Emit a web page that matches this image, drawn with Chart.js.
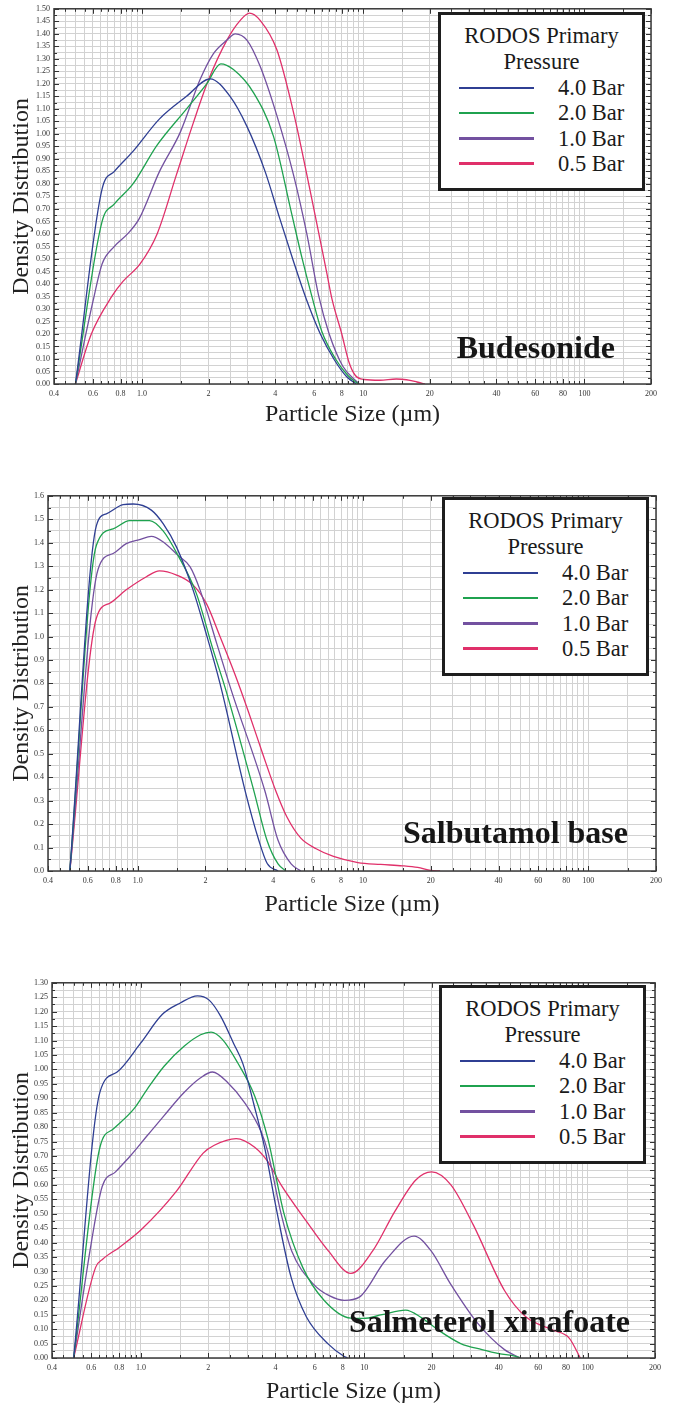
<!DOCTYPE html>
<html>
<head>
<meta charset="utf-8">
<script src="https://cdn.jsdelivr.net/npm/chart.js@4.4.1/dist/chart.umd.min.js"></script>
<style>
  body { margin:0; background:#fff; width:685px; height:1405px; position:relative; overflow:hidden; font-family:"Liberation Serif", serif; }
  canvas { position:absolute; left:0; }
  .legend { position:absolute; box-sizing:border-box; width:207px; height:179px; border:3px solid #1e1e1e; background:#fff; padding-top:8px; color:#1a1a1a;
            font-family:"Liberation Serif", "Times New Roman", "DejaVu Serif", serif; }
  .legend .lt { font-size:22.5px; line-height:26px; text-align:center; }
  .legend .row { position:relative; height:25.3px; font-size:22.5px; line-height:25.3px; }
  .legend .ln { position:absolute; left:18px; top:11.5px; width:75px; height:2.5px; }
  .legend .lb { position:absolute; left:117px; top:0; }
</style>
</head>
<body>
<canvas id="c1" width="685" height="440" style="top:0px"></canvas>
<canvas id="c2" width="685" height="440" style="top:487px"></canvas>
<canvas id="c3" width="685" height="431" style="top:974px"></canvas>
<script>
// series / legend
const seriesNames = ['4.0 Bar', '2.0 Bar', '1.0 Bar', '0.5 Bar'];
const seriesColors = ['#2f3f93', '#1fa24f', '#7351a0', '#e0306a'];
const legendTitle = ['RODOS Primary', 'Pressure'];

// x axis (log) labelled ticks
const xTickValues = [0.4, 0.6, 0.8, 1, 2, 4, 6, 8, 10, 20, 40, 60, 80, 100, 200];
const xTickText = ['0.4', '0.6', '0.8', '1.0', '2', '4', '6', '8', '10', '20', '40', '60', '80', '100', '200'];

// Budesonide
const budX40 = [0.5, 0.66, 0.75, 0.91, 1.2, 1.59, 2.03, 2.5, 2.98, 3.6, 4.2, 4.8, 5.5, 6.4, 7.4, 8.4, 9.3];
const budY40 = [0, 0.78, 0.85, 0.93, 1.06, 1.15, 1.22, 1.15, 1.03, 0.85, 0.66, 0.50, 0.345, 0.20, 0.097, 0.03, 0];
const budX20 = [0.5, 0.66, 0.75, 0.91, 1.17, 1.59, 1.96, 2.27, 2.59, 3.19, 3.93, 4.75, 5.3, 5.86, 6.5, 7.5, 8.5, 9.5];
const budY20 = [0, 0.65, 0.72, 0.80, 0.955, 1.10, 1.20, 1.28, 1.257, 1.165, 0.99, 0.68, 0.50, 0.35, 0.21, 0.10, 0.035, 0];
const budX10 = [0.5, 0.6, 0.66, 0.75, 0.86, 0.97, 1.2, 1.49, 1.83, 2.1, 2.42, 2.64, 2.98, 3.42, 4.07, 4.84, 5.56, 6.3, 7.0, 8.1, 9.6];
const budY10 = [0, 0.33, 0.48, 0.55, 0.60, 0.66, 0.85, 1.007, 1.217, 1.32, 1.375, 1.40, 1.375, 1.27, 1.073, 0.836, 0.60, 0.35, 0.203, 0.07, 0];
const budX05 = [0.5, 0.59, 0.73, 0.82, 0.98, 1.17, 1.43, 1.71, 2.0, 2.42, 2.78, 3.06, 3.42, 4.07, 4.84, 5.76, 6.85, 7.24, 8.0, 8.6, 9.2, 10.1, 11.9, 14.1, 15.7, 17.5, 19];
const budY05 = [0, 0.20, 0.35, 0.41, 0.48, 0.60, 0.836, 1.047, 1.217, 1.375, 1.454, 1.483, 1.454, 1.336, 1.086, 0.771, 0.442, 0.336, 0.20, 0.09, 0.035, 0.018, 0.015, 0.02, 0.017, 0.008, 0];

// Salbutamol base
const salX40 = [0.5, 0.656, 0.726, 0.862, 0.955, 1.15, 1.3, 1.49, 1.76, 1.99, 2.32, 3.0, 3.45, 3.76, 4.2];
const salY40 = [0, 1.473, 1.523, 1.562, 1.565, 1.539, 1.48, 1.38, 1.2, 1.03, 0.80, 0.342, 0.131, 0.032, 0];
const salX20 = [0.5, 0.656, 0.778, 0.922, 1.13, 1.3, 1.51, 1.82, 2.16, 2.48, 3.28, 3.75, 4.2, 4.55];
const salY20 = [0, 1.389, 1.459, 1.494, 1.494, 1.449, 1.346, 1.185, 0.945, 0.762, 0.342, 0.131, 0.03, 0];
const salX10 = [0.5, 0.667, 0.778, 0.89, 1.02, 1.15, 1.3, 1.51, 1.71, 1.89, 2.24, 2.62, 3.67, 4.2, 4.8, 5.3];
const salY10 = [0, 1.286, 1.354, 1.396, 1.413, 1.427, 1.403, 1.346, 1.297, 1.2, 0.973, 0.763, 0.342, 0.131, 0.03, 0];
const salX05 = [0.5, 0.656, 0.752, 0.89, 1.094, 1.25, 1.49, 1.76, 2.02, 2.32, 2.7, 3.1, 3.59, 4.11, 4.6, 5.3, 6.2, 7.4, 9.5, 12, 15, 17.5, 20, 22];
const salY05 = [0, 1.079, 1.142, 1.199, 1.255, 1.28, 1.262, 1.22, 1.14, 1.0, 0.84, 0.68, 0.50, 0.34, 0.23, 0.14, 0.095, 0.062, 0.036, 0.028, 0.022, 0.015, 0.003, 0];

// Salmeterol xinafoate
const smX40 = [0.5, 0.656, 0.78, 0.995, 1.245, 1.5, 1.79, 2.02, 2.28, 2.6, 2.86, 3.2, 3.6, 4.03, 4.7, 5.5, 6.9, 8.1, 8.4];
const smY40 = [0, 0.922, 0.99, 1.09, 1.19, 1.23, 1.255, 1.24, 1.183, 1.09, 1.02, 0.88, 0.72, 0.52, 0.28, 0.143, 0.048, 0.006, 0];
const smX20 = [0.5, 0.656, 0.754, 0.93, 1.066, 1.27, 1.56, 1.85, 2.06, 2.32, 2.71, 3.23, 3.7, 4.37, 5.3, 6.6, 8.7, 9.9, 12, 15.3, 18, 21.4, 27, 33.6, 40, 47.6, 50];
const smY20 = [0, 0.731, 0.794, 0.863, 0.931, 1.011, 1.08, 1.12, 1.129, 1.103, 1.023, 0.908, 0.76, 0.50, 0.314, 0.2, 0.138, 0.137, 0.15, 0.166, 0.14, 0.097, 0.05, 0.029, 0.015, 0.006, 0];
const smX10 = [0.5, 0.6, 0.671, 0.77, 0.896, 1.066, 1.27, 1.56, 1.85, 2.09, 2.45, 2.91, 3.46, 3.7, 4.24, 4.73, 5.9, 7.0, 8.14, 9.5, 12.4, 16.7, 19.9, 24.3, 32.2, 42.4, 50];
const smY10 = [0, 0.40, 0.594, 0.645, 0.70, 0.77, 0.84, 0.92, 0.971, 0.991, 0.954, 0.885, 0.782, 0.714, 0.50, 0.371, 0.257, 0.215, 0.2, 0.211, 0.337, 0.4225, 0.371, 0.257, 0.12, 0.029, 0];
const smX05 = [0.5, 0.627, 0.676, 0.8, 1.005, 1.44, 1.9, 2.13, 2.67, 3.23, 3.7, 4.24, 5.5, 6.9, 8.7, 10.9, 13.7, 17.0, 20.0, 24.4, 30.7, 42.4, 52.8, 69.8, 82.6, 92.6];
const smY05 = [0, 0.314, 0.343, 0.383, 0.445, 0.577, 0.71, 0.737, 0.76, 0.73, 0.68, 0.6, 0.474, 0.371, 0.293, 0.371, 0.508, 0.617, 0.645, 0.6, 0.462, 0.234, 0.143, 0.097, 0.069, 0];

const panels = [
  { id: 'c1', top: 0, height: 440, left: 54, right: 651, yMax: 1.5, yLabelStep: 0.05, yDec: 2, titlePad: 13,
    name: 'Budesonide', nameRight: 615, nameY: 350, legendLeft: 438, legendTop: 12,
    series: [[budX40, budY40], [budX20, budY20], [budX10, budY10], [budX05, budY05]] },
  { id: 'c2', top: 487, height: 440, left: 48, right: 656, yMax: 1.6, yLabelStep: 0.1, yDec: 1, titlePad: 10,
    name: 'Salbutamol base', nameRight: 628, nameY: 348, legendLeft: 442, legendTop: 497,
    series: [[salX40, salY40], [salX20, salY20], [salX10, salY10], [salX05, salY05]] },
  { id: 'c3', top: 974, height: 431, left: 52, right: 655, yMax: 1.3, yLabelStep: 0.05, yDec: 2, titlePad: 1,
    name: 'Salmeterol xinafoate', nameRight: 630, nameY: 350, legendLeft: 439, legendTop: 985,
    series: [[smX40, smY40], [smX20, smY20], [smX10, smY10], [smX05, smY05]] }
];

// vertical grid: 1, 1.5, 2 ... 9.5 in every decade
const xGrid = [];
[0.1, 1, 10, 100].forEach(d => {
  for (let m = 1; m < 10; m += 0.5) {
    const v = Math.round(m * d * 1000) / 1000;
    if (v >= 0.4 && v <= 200) xGrid.push(v);
  }
});
const isXMajor = v => xTickValues.some(t => Math.abs(t - v) < 1e-9);

const frameTicks = {
  id: 'frameTicks',
  afterDatasetsDraw(chart, args, opts) {
    const { ctx, chartArea: a, scales: { x, y } } = chart;
    ctx.save();
    ctx.strokeStyle = '#333';
    ctx.lineWidth = 1;
    ctx.beginPath();
    x.ticks.forEach(t => {
      const px = Math.round(x.getPixelForValue(t.value)) + 0.5;
      const len = isXMajor(t.value) ? 5 : 3;
      ctx.moveTo(px, a.bottom); ctx.lineTo(px, a.bottom - len);
      ctx.moveTo(px, a.top); ctx.lineTo(px, a.top + len);
    });
    y.ticks.forEach(t => {
      const py = Math.round(y.getPixelForValue(t.value)) + 0.5;
      const r = t.value / opts.yLabelStep;
      const len = Math.abs(r - Math.round(r)) < 1e-6 ? 5 : 3;
      ctx.moveTo(a.left, py); ctx.lineTo(a.left + len, py);
      ctx.moveTo(a.right, py); ctx.lineTo(a.right - len, py);
    });
    ctx.stroke();
    ctx.lineWidth = 1.5;
    ctx.strokeStyle = '#3a3a3a';
    ctx.strokeRect(a.left, a.top, a.right - a.left, a.bottom - a.top);
    ctx.font = 'bold 32px "Liberation Serif"';
    ctx.textAlign = 'right';
    ctx.textBaseline = 'middle';
    ctx.fillStyle = '#161616';
    ctx.fillText(opts.name, opts.nameRight, opts.nameY);
    ctx.restore();
  }
};

panels.forEach(p => {
  const yGrid = [];
  const yStep = p.yLabelStep / 2;
  for (let i = 0; i <= Math.round(p.yMax / yStep); i++) yGrid.push(Math.round(i * yStep * 1000) / 1000);

  const datasets = p.series.map((s, k) => ({
    label: seriesNames[k],
    data: s[0].map((x, i) => ({ x: x, y: s[1][i] })),
    borderColor: seriesColors[k],
    borderWidth: 1.3,
    pointRadius: 0,
    fill: false,
    cubicInterpolationMode: 'monotone'
  }));

  new Chart(document.getElementById(p.id), {
    type: 'line',
    data: { datasets: datasets },
    plugins: [frameTicks],
    options: {
      responsive: false,
      animation: false,
      devicePixelRatio: 1,
      layout: { padding: { top: 5, right: 685 - p.right, left: 0, bottom: 0 } },
      plugins: {
        legend: { display: false },
        tooltip: { enabled: false },
        frameTicks: { name: p.name, nameRight: p.nameRight, nameY: p.nameY, yLabelStep: p.yLabelStep }
      },
      scales: {
        x: {
          type: 'logarithmic',
          min: 0.4,
          max: 200,
          afterBuildTicks: s => { s.ticks = xGrid.map(v => ({ value: v })); },
          afterFit: s => { s.height = p.height - 384; },
          grid: { color: '#d2d2d2', lineWidth: 1, drawTicks: false },
          border: { display: false },
          ticks: {
            autoSkip: false, maxRotation: 0, padding: 5,
            color: '#333', font: { family: 'Liberation Serif', size: 8 },
            callback: v => { const i = xTickValues.findIndex(t => Math.abs(t - v) < 1e-9); return i >= 0 ? xTickText[i] : ''; }
          },
          title: { display: true, text: 'Particle Size (µm)', color: '#222',
                   font: { family: 'Liberation Serif', size: 24, lineHeight: 1 }, padding: { top: 0, bottom: p.titlePad } }
        },
        y: {
          type: 'linear',
          min: 0,
          max: p.yMax,
          afterBuildTicks: s => { s.ticks = yGrid.map(v => ({ value: v })); },
          afterFit: s => { s.width = p.left; },
          grid: { color: '#d2d2d2', lineWidth: 1, drawTicks: false },
          border: { display: false },
          ticks: {
            autoSkip: false, padding: 4,
            color: '#333', font: { family: 'Liberation Serif', size: 8 },
            callback: v => { const r = v / p.yLabelStep; return Math.abs(r - Math.round(r)) < 1e-6 ? v.toFixed(p.yDec) : ''; }
          },
          title: { display: true, text: 'Density Distribution', color: '#222',
                   font: { family: 'Liberation Serif', size: 24, lineHeight: 1 }, padding: { top: 10, bottom: 0 } }
        }
      }
    }
  });

  // legend box
  const box = document.createElement('div');
  box.className = 'legend';
  box.style.left = p.legendLeft + 'px';
  box.style.top = p.legendTop + 'px';
  legendTitle.forEach(t => {
    const d = document.createElement('div');
    d.className = 'lt';
    d.textContent = t;
    box.appendChild(d);
  });
  seriesNames.forEach((n, k) => {
    const row = document.createElement('div');
    row.className = 'row';
    const ln = document.createElement('span');
    ln.className = 'ln';
    ln.style.background = seriesColors[k];
    const lb = document.createElement('span');
    lb.className = 'lb';
    lb.textContent = n;
    row.appendChild(ln);
    row.appendChild(lb);
    box.appendChild(row);
  });
  document.body.appendChild(box);
});
</script>
</body>
</html>
